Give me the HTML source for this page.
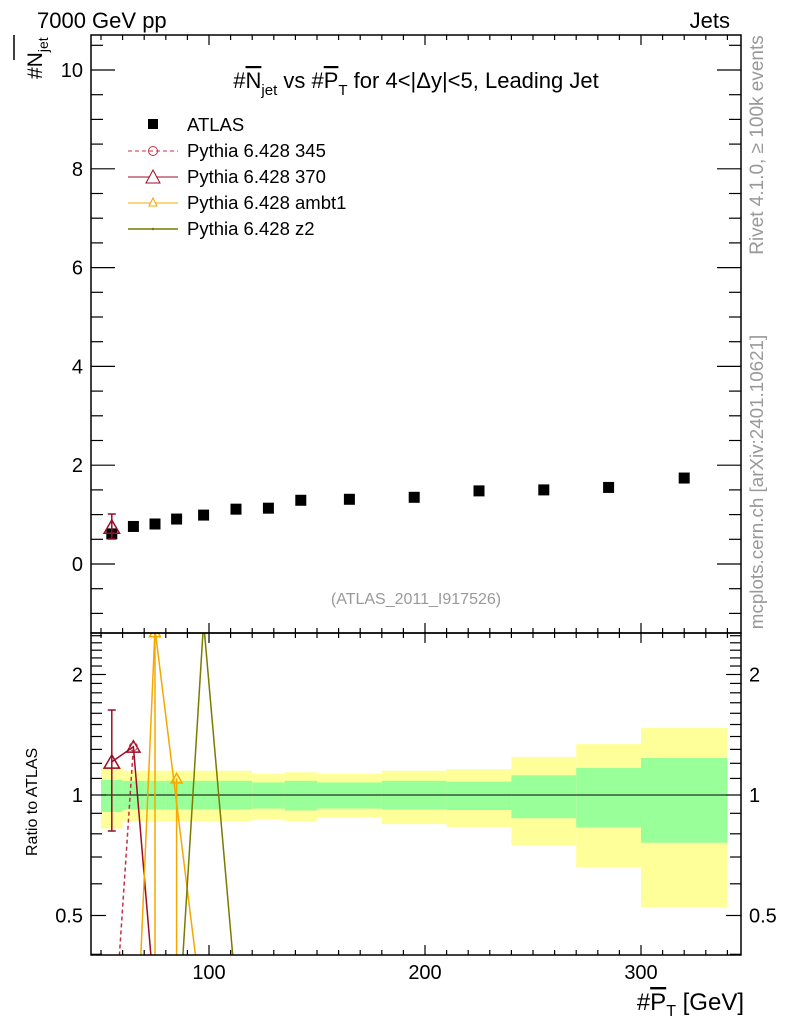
<!DOCTYPE html>
<html><head><meta charset="utf-8"><style>
body{margin:0;background:#fff;}
svg{display:block;font-family:"Liberation Sans",Arial,sans-serif;}
</style></head><body>
<svg id="chart" width="786" height="1024" viewBox="0 0 786 1024" xmlns="http://www.w3.org/2000/svg">
<defs>
<clipPath id="mainclip"><rect x="91" y="35" width="650" height="598"/></clipPath>
<clipPath id="ratioclip"><rect x="91" y="633" width="650" height="322"/></clipPath>
</defs>
<g id="bands" clip-path="url(#ratioclip)"></g>
<g id="ratioLines" clip-path="url(#ratioclip)"></g>
<g id="mainMarks" clip-path="url(#mainclip)"></g>
<g id="axes"></g>
<text x="37" y="28" font-size="22">7000 GeV pp</text>
<text x="730" y="28" font-size="22" text-anchor="end">Jets</text>
<text x="416" y="88" font-size="22" text-anchor="middle">#<tspan text-decoration="overline">N</tspan><tspan font-size="15" dy="7">jet</tspan><tspan dy="-7"> vs #</tspan><tspan text-decoration="overline">P</tspan><tspan font-size="15" dy="7">T</tspan><tspan dy="-7"> for 4&lt;|Δy|&lt;5, Leading Jet</tspan></text>
<text transform="translate(42,79) rotate(-90)" font-size="21">#N<tspan font-size="14" dy="6">jet</tspan></text>
<line x1="14" y1="60" x2="14" y2="35" stroke="#000" stroke-width="1.5"/>
<text transform="translate(37,856) rotate(-90)" font-size="16">Ratio to ATLAS</text>
<text x="744" y="1010" font-size="24" text-anchor="end">#<tspan text-decoration="overline">P</tspan><tspan font-size="16" dy="6">T</tspan><tspan dy="-6"> [GeV]</tspan></text>
<text x="416" y="604" font-size="16" fill="#999" text-anchor="middle">(ATLAS_2011_I917526)</text>
<text transform="translate(763,145) rotate(-90)" font-size="19" fill="#999" text-anchor="middle">Rivet 4.1.0, ≥ 100k events</text>
<text transform="translate(763,482) rotate(-90)" font-size="18.8" fill="#999" text-anchor="middle">mcplots.cern.ch [arXiv:2401.10621]</text>
<g font-size="18.5">
<g><rect x="148" y="119" width="10" height="10" fill="#000"/><text x="187" y="131">ATLAS</text></g>
<g><line x1="128" y1="151" x2="178" y2="151" stroke="#c0304a" stroke-dasharray="4,3"/><circle cx="153" cy="151" r="4.5" fill="none" stroke="#c0304a"/><text x="187" y="157">Pythia 6.428 345</text></g>
<g><line x1="128" y1="177" x2="178" y2="177" stroke="#9b0c25"/><path d="M153,170 L160,183 L146,183 Z" fill="#fff" stroke="#9b0c25"/><text x="187" y="183">Pythia 6.428 370</text></g>
<g><line x1="128" y1="203" x2="178" y2="203" stroke="#f5a800"/><path d="M153,198 L157,206 L149,206 Z" fill="#fff" stroke="#f5a800"/><text x="187" y="209">Pythia 6.428 ambt1</text></g>
<g><line x1="128" y1="229" x2="178" y2="229" stroke="#7a7a00" stroke-width="1.5"/><circle cx="153" cy="229" r="1.2" fill="#7a7a00"/><text x="187" y="235">Pythia 6.428 z2</text></g>
</g>
</svg>
<script>
const binEdges=[50,60,70,80,90,105,120,135,150,180,210,240,270,300,340];
const binCenters=[55,65,75,85,97.5,112.5,127.5,142.5,165,195,225,255,285,320];
const atlasValues=[0.61,0.76,0.81,0.91,0.99,1.11,1.13,1.29,1.31,1.35,1.48,1.50,1.55,1.74];
const yellowUp=[1.175,1.15,1.15,1.15,1.15,1.15,1.13,1.14,1.13,1.15,1.16,1.245,1.34,1.47];
const yellowDn=[0.825,0.86,0.86,0.86,0.86,0.86,0.87,0.86,0.88,0.846,0.832,0.75,0.66,0.525];
const greenUp=[1.09,1.085,1.085,1.085,1.085,1.085,1.075,1.085,1.075,1.085,1.08,1.12,1.168,1.237];
const greenDn=[0.907,0.92,0.92,0.92,0.92,0.92,0.925,0.915,0.925,0.92,0.917,0.875,0.83,0.76];
const r370X=[55,65,75];
const r370=[1.21,1.32,0.3];
const r345X=[57,65];
const r345=[0.3,1.32];
const ambt1X=[68,75,95];
const ambt1=[0.35,2.6,0.35];
const ambt1MarkX=[75,85];
const ambt1Mark=[2.55,1.1];
const z2X=[87,97.5,111.5];
const z2=[0.33,2.7,0.37];
const main370X=[55];const main370=[0.75];

const NS="http://www.w3.org/2000/svg";
const X=v=>209+(v-100)*2.16;
const Y=v=>564-v*49.4;
const R=v=>795-Math.log2(v)*120.5;
function mk(tag,attrs,parent){const e=document.createElementNS(NS,tag);for(const k in attrs)e.setAttribute(k,attrs[k]);document.getElementById(parent).appendChild(e);return e;}

for(let i=0;i<binCenters.length;i++){
 const x0=X(binEdges[i]),x1=X(binEdges[i+1]);
 let e=mk('rect',{x:x0,y:R(yellowUp[i]),width:x1-x0,height:R(yellowDn[i])-R(yellowUp[i]),fill:'#ffff99'},'bands');
 
 
 e=mk('rect',{x:x0,y:R(greenUp[i]),width:x1-x0,height:R(greenDn[i])-R(greenUp[i]),fill:'#99ff99'},'bands');
 
 
}
let ref=mk('line',{x1:91,x2:741,y1:R(1),y2:R(1),stroke:'#000','stroke-width':1},'bands');



function poly(xs,vs,f,color,extra,name){
 const p=mk('polyline',Object.assign({points:xs.map((x,i)=>X(x)+','+f(vs[i])).join(' '),fill:'none',stroke:color,'stroke-width':1.5},extra),'ratioLines');
 
 
}
poly(r345X,r345,R,'#c0304a',{'stroke-dasharray':'4,3'},'line-345');
poly(r370X,r370,R,'#9b0c25',{},'line-370');
poly(ambt1X,ambt1,R,'#f5a800',{},'line-ambt1');
poly(z2X,z2,R,'#7a7a00',{},'line-z2');
ambt1MarkX.forEach((x,i)=>{const v=mk('line',{x1:X(x),x2:X(x),y1:R(ambt1Mark[i]),y2:960,stroke:'#f5a800','stroke-width':1.5},'ratioLines');});
function tri(cx,cy,s,color,par,name){const t=mk('path',{d:`M${cx},${cy-s} L${cx+s*1.1},${cy+s*0.9} L${cx-s*1.1},${cy+s*0.9} Z`,fill:'none',stroke:color,'stroke-width':1.5},par);}
let eb=mk('line',{x1:X(55),x2:X(55),y1:710,y2:831,stroke:'#9b0c25','stroke-width':1.5},'ratioLines');


mk('line',{x1:X(55)-4,x2:X(55)+4,y1:710,y2:710,stroke:'#9b0c25','stroke-width':1.5},'ratioLines');
mk('line',{x1:X(55)-4,x2:X(55)+4,y1:831,y2:831,stroke:'#9b0c25','stroke-width':1.5},'ratioLines');
tri(X(r370X[0]),R(r370[0]),7,'#9b0c25','ratioLines','marker-370');
tri(X(r370X[1]),R(r370[1]),6,'#9b0c25','ratioLines','marker-370');
let c=mk('circle',{cx:X(r345X[1]),cy:R(r345[1]),r:4,fill:'none',stroke:'#c0304a'},'ratioLines');


ambt1MarkX.forEach((x,i)=>tri(X(x),R(ambt1Mark[i]),5,'#f5a800','ratioLines','marker-ambt1'));

for(let i=0;i<binCenters.length;i++){
 const m=mk('rect',{x:X(binCenters[i])-5.5,y:Y(atlasValues[i])-5.5,width:11,height:11,fill:'#000'},'mainMarks');
 
 
}
for(let i=0;i<main370X.length;i++){
 const x=X(main370X[i]),y=Y(main370[i]);
 mk('line',{x1:x,x2:x,y1:514,y2:539,stroke:'#9b0c25','stroke-width':1.5},'mainMarks');
 mk('line',{x1:x-4,x2:x+4,y1:514,y2:514,stroke:'#9b0c25','stroke-width':1.5},'mainMarks');
 mk('line',{x1:x-4,x2:x+4,y1:539,y2:539,stroke:'#9b0c25','stroke-width':1.5},'mainMarks');
 tri(x,y,7,'#9b0c25','mainMarks','main-marker-370');
}

const A='axes';
function ln(x1,y1,x2,y2,w){mk('line',{x1,y1,x2,y2,stroke:'#000','stroke-width':w||1.2},A);}
function txt(x,y,s,anchor){const t=mk('text',{x,y,'font-size':20,'text-anchor':anchor||'end'},A);t.textContent=s;}
const fr1=mk('rect',{x:91,y:35,width:650,height:598,fill:'none',stroke:'#000','stroke-width':1.5},A);

const fr2=mk('rect',{x:91,y:633,width:650,height:322,fill:'none',stroke:'#000','stroke-width':1.5},A);

const yTicks=[0,2,4,6,8,10];
for(let v=-1;v<=10.5;v+=0.5){const y=Y(v);const maj=Math.abs(v%2)<1e-9;const L=maj?24:12;ln(91,y,91+L,y);ln(741-L,y,741,y);}
yTicks.forEach(v=>txt(83,Y(v)+7,String(v)));
const rTicks=[0.5,1,2];
const rMinor=[0.4,0.6,0.7,0.8,0.9,1.1,1.2,1.3,1.4,1.5,1.6,1.7,1.8,1.9,2.1,2.2,2.3,2.4,2.5];
rMinor.forEach(v=>{const y=R(v);if(y>633&&y<955){ln(91,y,102,y);ln(730,y,741,y);}});
rTicks.forEach(v=>{const y=R(v);ln(91,y,106,y);ln(726,y,741,y);txt(83,y+7,String(v));txt(749,y+7,String(v),'start');});
const xTicks=[100,200,300];
for(let v=50;v<=340;v+=10){const x=X(v);const maj=v%100===0;const L=maj?10:5;ln(x,35,x,35+L);ln(x,633,x,633-L);ln(x,633,x,633+L);ln(x,955,x,955-L);}
xTicks.forEach(v=>{const t=mk('text',{x:X(v),y:979,'font-size':20,'text-anchor':'middle'},A);t.textContent=String(v);});
</script>
</body></html>
